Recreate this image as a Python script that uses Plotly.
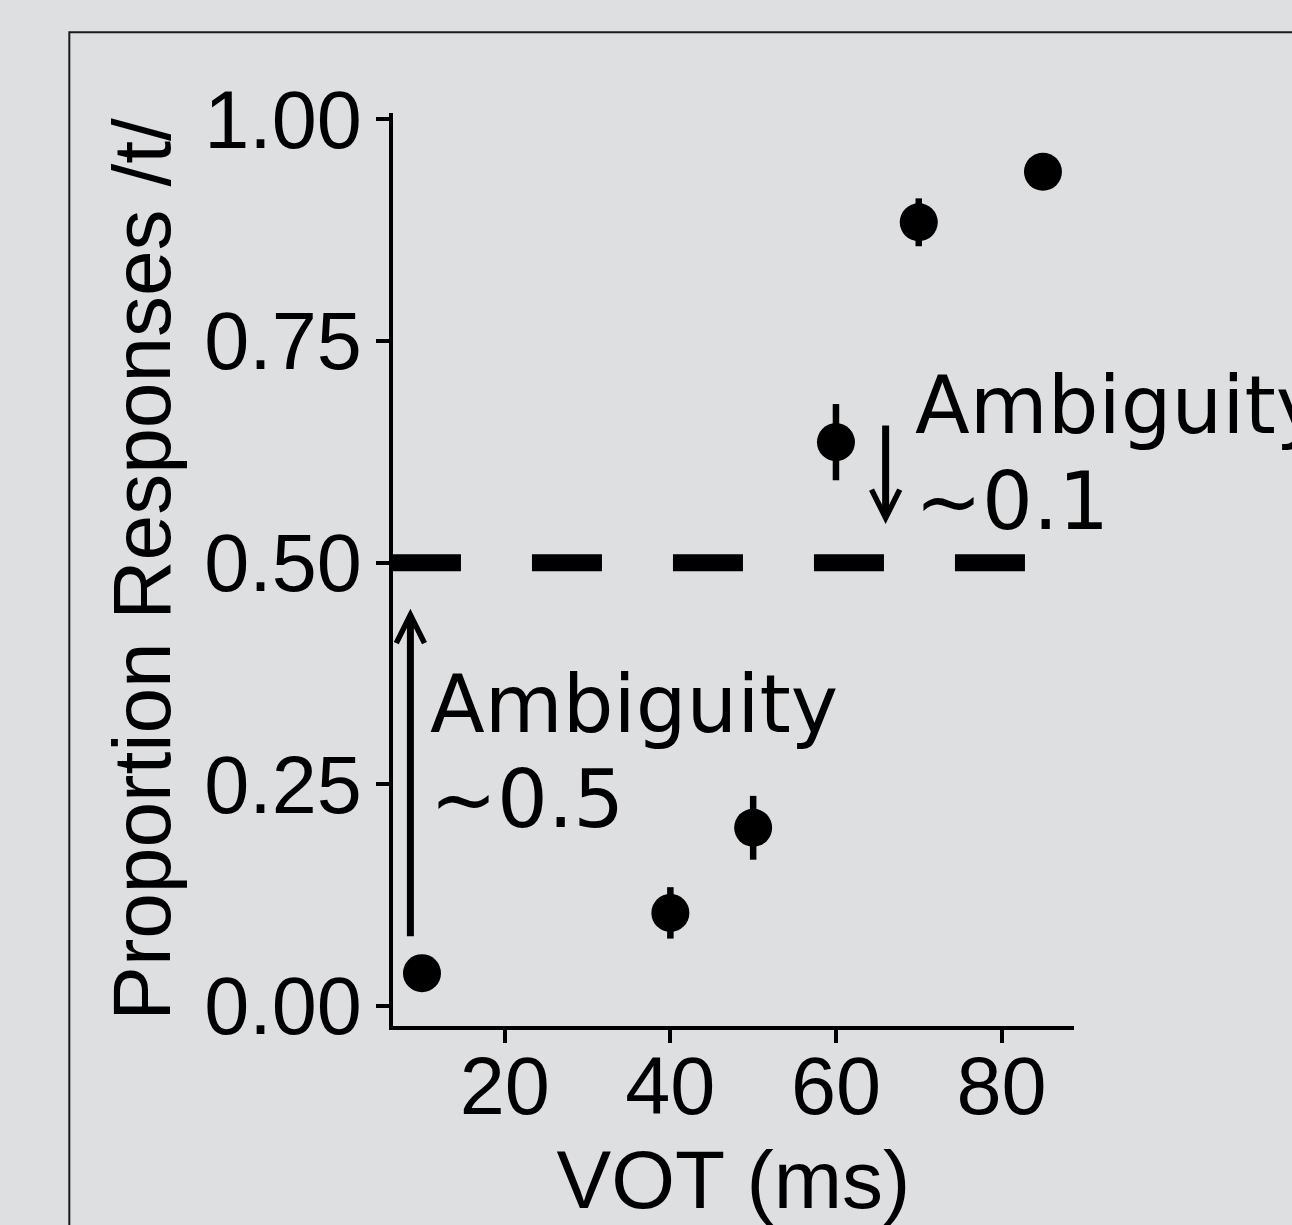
import plotly.graph_objects as go

# Identification data: proportion of /t/ responses at each VOT step
vot_ms = [10, 40, 50, 60, 70, 85]
prop_t = [0.037, 0.105, 0.201, 0.636, 0.884, 0.941]
prop_se = [0.010, 0.029, 0.036, 0.043, 0.027, 0.010]

x_ticks = [20, 40, 60, 80]
y_ticks = [0.00, 0.25, 0.50, 0.75, 1.00]
y_tick_text = ["0.00", "0.25", "0.50", "0.75", "1.00"]

chance_level = 0.5

# Ambiguity arrows: (x, tail y, head y)
arrow_x = [8.6, 66.0]
arrow_tail_y = [0.077, 0.6565]
arrow_head_y = [0.448, 0.5437]

# Ambiguity labels, one line per entry: (x, y of line bottom, text)
label_x = [11.0, 11.0, 69.5, 69.5]
label_y = [0.2880, 0.1800, 0.6250, 0.5170]
label_text = ["Ambiguity", "~0.5", "Ambiguity", "~0.1"]

BG = "#dedfe1"
SANS = "Liberation Sans, Arial, sans-serif"
LABEL_FONT = "DejaVu Sans, Verdana, sans-serif"

fig = go.Figure()

fig.add_trace(go.Scatter(
    x=vot_ms, y=prop_t, mode="markers",
    marker=dict(size=38, color="black", line=dict(width=0)),
    error_y=dict(type="data", array=prop_se, symmetric=True,
                 thickness=6.5, width=0, color="black"),
    showlegend=False, cliponaxis=False,
))

# Dashed chance line across the panel
fig.add_shape(type="line", xref="x domain", yref="y",
              x0=-0.003, x1=1, y0=chance_level, y1=chance_level,
              line=dict(color="black", width=17, dash="70px,71px"))

annotations = []
for xa, yt, yh in zip(arrow_x, arrow_tail_y, arrow_head_y):
    annotations.append(dict(
        x=xa, y=yh, ax=xa, ay=yt, xref="x", yref="y", axref="x", ayref="y",
        text="", showarrow=True, arrowhead=5, arrowsize=0.79, arrowwidth=7,
        arrowcolor="black", standoff=0, startstandoff=0,
    ))
for xl, yl, tl in zip(label_x, label_y, label_text):
    annotations.append(dict(
        x=xl, y=yl, xref="x", yref="y", text=tl, showarrow=False,
        xanchor="left", yanchor="bottom", borderpad=0, borderwidth=0,
        font=dict(family=LABEL_FONT, size=80, color="black"),
    ))

# Outer frame around the panel
fig.add_shape(type="rect", xref="paper", yref="paper",
              x0=-0.4753, x1=2.0, y0=-1.0, y1=1.0884,
              line=dict(color="#1a1a1a", width=2), fillcolor="rgba(0,0,0,0)")

axis_common = dict(
    showgrid=False, zeroline=False, showline=True, linecolor="black", linewidth=4,
    ticks="outside", ticklen=13, tickwidth=3.5, tickcolor="black",
    tickfont=dict(family=SANS, size=81, color="black"), automargin=False,
)

fig.update_layout(
    width=1292, height=1225,
    paper_bgcolor=BG, plot_bgcolor=BG,
    margin=dict(l=393, r=218, t=113, b=199),
    annotations=annotations,
    xaxis=dict(range=[6.5, 88.75], tickvals=x_ticks, ticklabelstandoff=-26,
               title=dict(text="VOT (ms)", font=dict(family=SANS, size=82, color="black"), standoff=28),
               **axis_common),
    yaxis=dict(range=[-0.0226, 1.0073], tickvals=y_ticks, ticktext=y_tick_text,
               ticklabelstandoff=-2,
               title=dict(text="Proportion Responses /t/", font=dict(family=SANS, size=82, color="black"), standoff=7),
               **axis_common),
)

fig.write_html("out.html")
